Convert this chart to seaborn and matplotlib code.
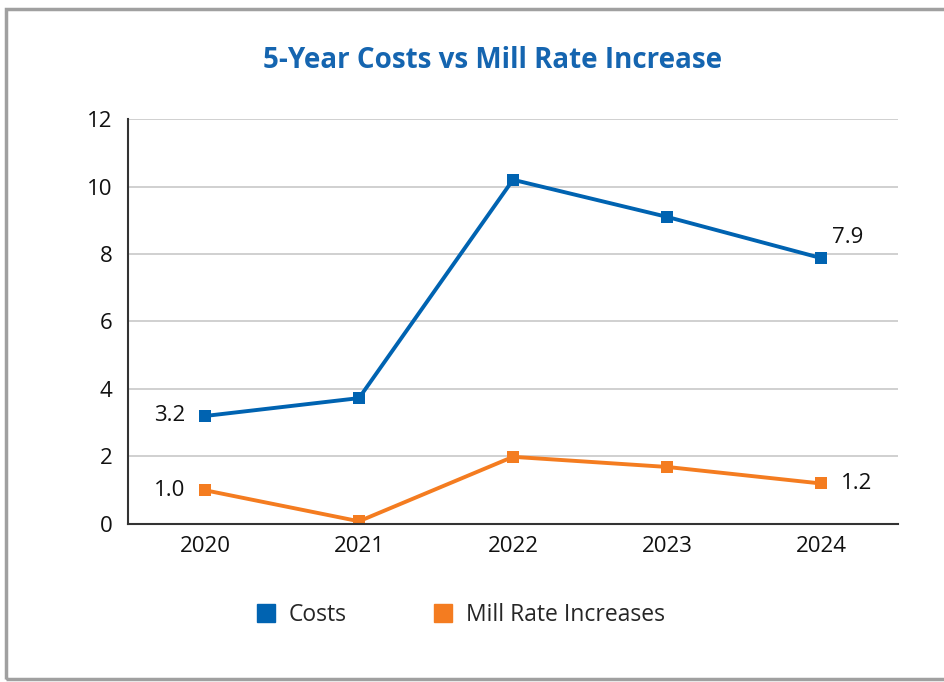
import pandas as pd
import seaborn as sns
import matplotlib.pyplot as plt
from matplotlib.patches import Rectangle

sns.set_theme(style="white")
plt.rcParams['font.family'] = ['Open Sans', 'DejaVu Sans']

years = ['2020', '2021', '2022', '2023', '2024']
costs = [3.2, 3.73, 10.2, 9.1, 7.88]
mill_rate = [1.0, 0.08, 1.99, 1.69, 1.2]

blue = '#0063b1'
orange = '#f47c20'

df = pd.DataFrame({'year': years, 'Costs': costs, 'Mill Rate Increases': mill_rate})
df_long = df.melt(id_vars='year', var_name='series', value_name='value')

fig = plt.figure(figsize=(9.44, 6.82), dpi=100)
fig.patches.append(Rectangle((0.0065, 0.0045), 1.1, 0.983, transform=fig.transFigure,
                             fill=False, edgecolor='#a0a0a0', linewidth=2.5))
ax = fig.add_axes([0.1356, 0.2317, 0.8157, 0.5938])

sns.lineplot(data=df_long, x='year', y='value', hue='series',
             palette=[blue, orange], marker='s', markersize=9, markeredgewidth=0,
             linewidth=2.8, ax=ax, legend=False, sort=False)

ax.set_xlim(-0.5, 4.5)
ax.set_ylim(0, 12)
ax.set_yticks(range(0, 13, 2))
ax.yaxis.grid(True, color='#c8c8c8', linewidth=1.2)
ax.set_axisbelow(True)
for s in ['top', 'right']:
    ax.spines[s].set_visible(False)
for s in ['left', 'bottom']:
    ax.spines[s].set_color('#333333')
    ax.spines[s].set_linewidth(1.5)
ax.tick_params(axis='both', length=0, labelsize=16, colors='#111111')
ax.tick_params(axis='x', pad=9)
ax.tick_params(axis='y', pad=11)
ax.set_xlabel('')
ax.set_ylabel('')

# data labels at first and last points
ax.text(-0.13, costs[0], f'{costs[0]:.1f}', ha='right', va='center', fontsize=16, color='#111111')
ax.text(-0.13, mill_rate[0], f'{mill_rate[0]:.1f}', ha='right', va='center', fontsize=16, color='#111111')
ax.text(4.07, costs[4] + 0.6, f'{costs[4]:.1f}', ha='left', va='center', fontsize=16, color='#111111')
ax.text(4.13, mill_rate[4], f'{mill_rate[4]:.1f}', ha='left', va='center', fontsize=16, color='#111111')

fig.text(0.522, 0.912, '5-Year Costs vs Mill Rate Increase', ha='center', va='center',
         fontsize=20, fontweight='bold', color='#1565b0')

handles = [plt.Line2D([], [], marker='s', linestyle='', color=blue, markersize=13),
           plt.Line2D([], [], marker='s', linestyle='', color=orange, markersize=13)]
fig.legend(handles, ['Costs', 'Mill Rate Increases'], loc='center', bbox_to_anchor=(0.487, 0.098),
           ncol=2, frameon=False, fontsize=16.5, handlelength=1.0, handletextpad=0.5,
           columnspacing=3.7)

plt.savefig('out.png', dpi=100)
